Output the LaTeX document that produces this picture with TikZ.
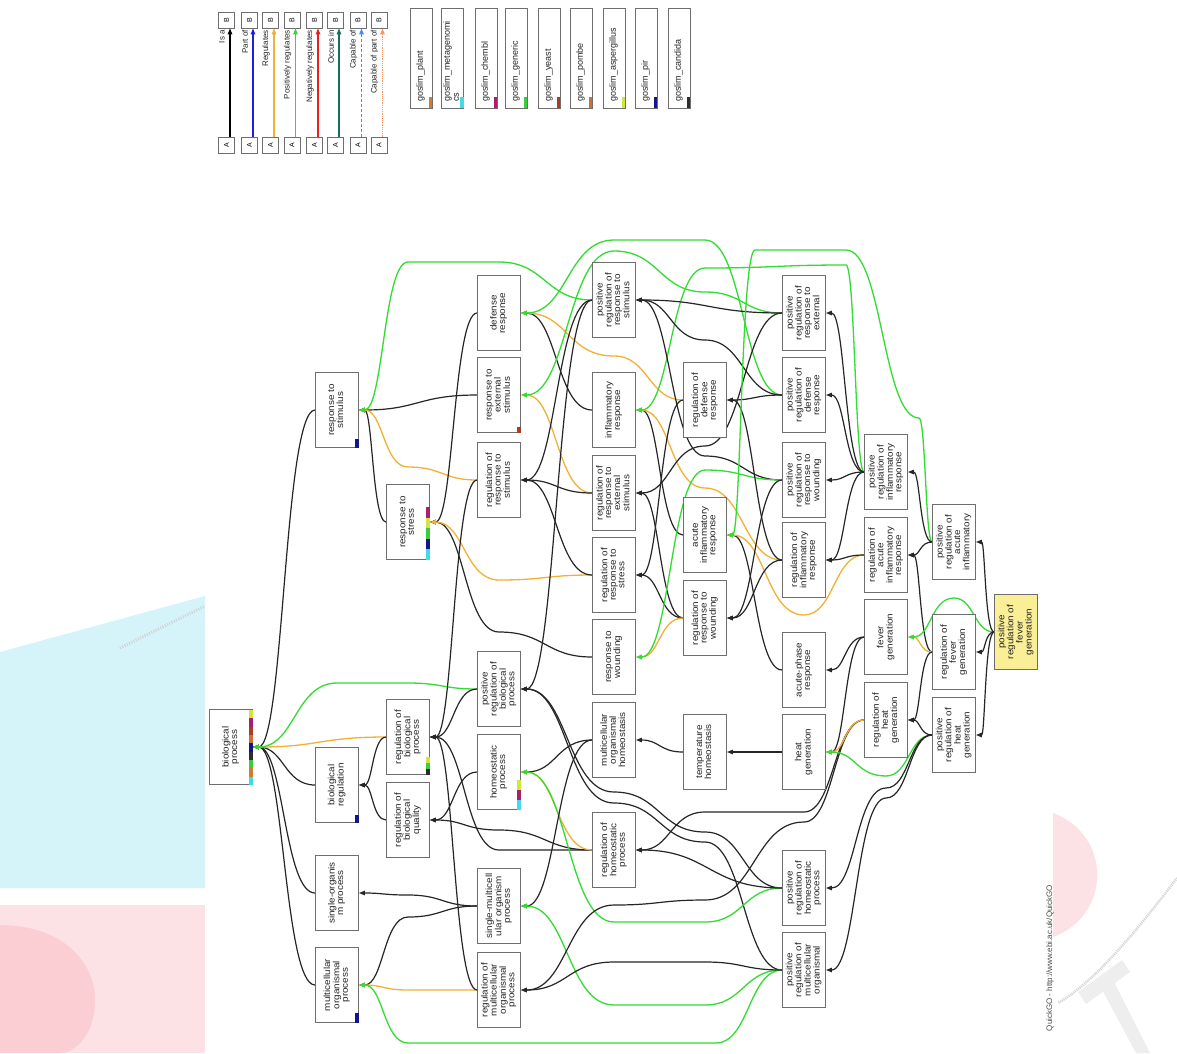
\documentclass[tikz,border=0pt]{standalone}
\usepackage{fontspec}
\setmainfont{Liberation Sans}
\usepackage{graphicx}
\usetikzlibrary{arrows.meta,calc}
\pgfdeclarelayer{wm}
\pgfdeclarelayer{bg}
\pgfsetlayers{wm,bg,main}
\definecolor{regor}{RGB}{242,176,52}
\definecolor{posgr}{RGB}{50,220,50}
\definecolor{boxgray}{RGB}{110,110,110}
\definecolor{yellowfill}{RGB}{250,238,150}
\definecolor{wmcyan}{RGB}{212,244,250}
\definecolor{wmpink}{RGB}{252,226,228}
\definecolor{wmpinkdark}{RGB}{250,206,210}
\definecolor{slplant}{RGB}{214,122,48}
\definecolor{slmeta}{RGB}{64,218,232}
\definecolor{slchembl}{RGB}{170,30,110}
\definecolor{slgeneric}{RGB}{60,205,60}
\definecolor{slyeast}{RGB}{168,62,32}
\definecolor{slpombe}{RGB}{205,112,50}
\definecolor{slasperg}{RGB}{205,232,60}
\definecolor{slpir}{RGB}{20,20,140}
\definecolor{slcand}{RGB}{45,45,45}
\definecolor{lgblue}{RGB}{30,30,230}
\definecolor{lgred}{RGB}{235,30,30}
\definecolor{lgteal}{RGB}{20,110,100}
\definecolor{lgcap}{RGB}{70,140,255}
\definecolor{lgcappart}{RGB}{250,150,100}
\newcommand{\gotxt}[1]{\rotatebox{90}{\scalebox{1.1}[1]{\begin{tabular}{@{}c@{}}#1\end{tabular}}}}
\newcommand{\slimbar}[3]{\foreach \slc [count=\sli from 0] in {#3}{\fill[\slc] ([xshift=-3.5pt,yshift=\sli*#2]#1.south east) rectangle ++(3.5pt,#2pt);}}
\begin{document}
\begin{tikzpicture}[x=1pt,y=-1pt,
 hcurve/.style={to path={let \p1=(\tikztostart),\p2=(\tikztotarget),\n1={0.5*(\x2-\x1)},\n2={0.5*(\x1-\x2)} in .. controls ([xshift=\n1]\p1) and ([xshift=\n2]\p2) .. (\tikztotarget) \tikztonodes}},
 isaedge/.style={draw=black!85, line width=1.2pt, hcurve, -{Triangle[length=6pt,width=4.5pt]}},
 regedge/.style={draw=regor, line width=1.3pt, hcurve, -{Triangle[length=6pt,width=4.5pt]}},
 posedge/.style={draw=posgr, line width=1.3pt, hcurve, -{Triangle[length=6pt,width=4.5pt]}},
 gobox/.style={draw=boxgray, line width=0.9pt, fill=white, minimum width=43pt, minimum height=75pt, inner sep=0pt, font=\fontsize{9}{8.5}\selectfont, text=black!85},
 lgbox/.style={draw=boxgray, line width=0.8pt, fill=white, minimum size=16pt, inner sep=0pt, font=\fontsize{7}{8}\selectfont},
 lglabel/.style={inner sep=0pt, font=\fontsize{8}{9}\selectfont, text=black!85},
 slimbox/.style={draw=boxgray, line width=0.8pt, fill=white, minimum width=22pt, minimum height=100pt, inner sep=0pt},
 slimtxt/.style={inner sep=0pt, font=\fontsize{9}{9}\selectfont, text=black!85}
]
\useasboundingbox (0,0) rectangle (1177,1053);
\begin{pgfonlayer}{wm}
\fill[white] (0,0) rectangle (1177,1053);
\fill[wmcyan] (0,652) -- (205,596) -- (205,888) -- (0,888) -- cycle;
\fill[wmpink] (0,905) -- (205,905) -- (205,1053) -- (0,1053) -- cycle;
\fill[wmpinkdark] (0,925) .. controls (60,925) and (95,960) .. (95,1000) .. controls (95,1035) and (75,1053) .. (60,1053) -- (0,1053) -- cycle;
\draw[gray!35, line width=3pt, dash pattern=on 1pt off 1.5pt] (120,648) -- (205,606);
\fill[wmpink] (1053,813) .. controls (1112,835) and (1112,915) .. (1053,937) -- cycle;
\draw[gray!35, line width=2.5pt, dash pattern=on 1pt off 1pt] (1177,878) .. controls (1130,940) and (1090,985) .. (1058,1003);
\fill[gray!13] (1078,992) -- (1122,960) -- (1130,972) -- (1086,1004) -- cycle;
\fill[gray!13] (1098,982) -- (1110,974) -- (1150,1053) -- (1136,1053) -- cycle;
\end{pgfonlayer}

% ---------- legend ----------
\foreach \bx/\col/\sty/\lab [count=\k] in {226.5/black/solid/Is a, 249.5/lgblue/solid/Part of, 270.5/regor/solid/Regulates, 292/posgr/solid/Positively regulates, 314.5/lgred/solid/Negatively regulates, 335.5/lgteal/solid/Occurs in, 358/lgcap/densely dashed/Capable of, 379/lgcappart/densely dotted/Capable of part of}
{
 \node[lgbox] (la\k) at (\bx,145) {\rotatebox{90}{A}};
 \node[lgbox] (lb\k) at (\bx,20) {\rotatebox{90}{B}};
 \draw[line width=1.2pt, draw=\col, \sty, -{Triangle[length=6pt,width=4.5pt]}] ([xshift=3.5pt]la\k.north) -- ([xshift=3.5pt]lb\k.south);
 \node[lglabel, rotate=90, anchor=east] (ll\k) at (\bx-4.5,30) {\lab};
}
\foreach \sx/\scol/\stxt [count=\k] in {421/slplant/goslim\_plant, 452.5/slmeta/goslim\_metagenomi\\cs, 486/slchembl/goslim\_chembl, 516/slgeneric/goslim\_generic, 549/slyeast/goslim\_yeast, 581/slpombe/goslim\_pombe, 614/slasperg/goslim\_aspergillus, 646/slpir/goslim\_pir, 679/slcand/goslim\_candida}
{
 \node[slimbox] (sb\k) at (\sx,58) {};
 \node[slimtxt, rotate=90, anchor=west] (st\k) at (\sx,102) {\begin{tabular}{@{}l@{}}\stxt\end{tabular}};
 \fill[\scol] ([xshift=-3.5pt]sb\k.south east) rectangle ++(3.5pt,11pt);
}

% ---------- nodes ----------
\node[gobox] (bp) at (231,747) {\gotxt{biological\\process}};
\node[gobox] (rstim) at (337,410) {\gotxt{response to\\stimulus}};
\node[gobox] (breg) at (337,785) {\gotxt{biological\\regulation}};
\node[gobox] (sop) at (337,893) {\gotxt{single-organis\\m process}};
\node[gobox] (mop) at (337,985) {\gotxt{multicellular\\organismal\\process}};
\node[gobox] (rstress) at (408,522) {\gotxt{response to\\stress}};
\node[gobox] (rbp) at (408,737) {\gotxt{regulation of\\biological\\process}};
\node[gobox] (rbq) at (408,820) {\gotxt{regulation of\\biological\\quality}};
\node[gobox] (defr) at (499,313) {\gotxt{defense\\response}};
\node[gobox] (rext) at (499,395) {\gotxt{response to\\external\\stimulus}};
\node[gobox] (rrs) at (499,480) {\gotxt{regulation of\\response to\\stimulus}};
\node[gobox] (prbp) at (499,689) {\gotxt{positive\\regulation of\\biological\\process}};
\node[gobox] (homeo) at (499,772) {\gotxt{homeostatic\\process}};
\node[gobox] (smop) at (499,906) {\gotxt{single-multicell\\ular organism\\process}};
\node[gobox] (rmop) at (499,990) {\gotxt{regulation of\\multicellular\\organismal\\process}};
\node[gobox] (prrs) at (614,300) {\gotxt{positive\\regulation of\\response to\\stimulus}};
\node[gobox] (infl) at (614,410) {\gotxt{inflammatory\\response}};
\node[gobox] (rres) at (614,493) {\gotxt{regulation of\\response to\\external\\stimulus}};
\node[gobox] (rrstress) at (614,575) {\gotxt{regulation of\\response to\\stress}};
\node[gobox] (wound) at (614,657) {\gotxt{response to\\wounding}};
\node[gobox] (moh) at (614,740) {\gotxt{multicellular\\organismal\\homeostasis}};
\node[gobox] (rhp) at (614,850) {\gotxt{regulation of\\homeostatic\\process}};
\node[gobox] (rdef) at (705,400) {\gotxt{regulation of\\defense\\response}};
\node[gobox] (acute) at (705,535) {\gotxt{acute\\inflammatory\\response}};
\node[gobox] (rwound) at (705,618) {\gotxt{regulation of\\response to\\wounding}};
\node[gobox] (temph) at (705,752) {\gotxt{temperature\\homeostasis}};
\node[gobox] (prres) at (804,313) {\gotxt{positive\\regulation of\\response to\\external}};
\node[gobox] (pdef) at (804,395) {\gotxt{positive\\regulation of\\defense\\response}};
\node[gobox] (pwound) at (804,480) {\gotxt{positive\\regulation of\\response to\\wounding}};
\node[gobox] (rinfl) at (804,560) {\gotxt{regulation of\\inflammatory\\response}};
\node[gobox] (acph) at (804,670) {\gotxt{acute-phase\\response}};
\node[gobox] (heat) at (804,752) {\gotxt{heat\\generation}};
\node[gobox] (prhp) at (804,888) {\gotxt{positive\\regulation of\\homeostatic\\process}};
\node[gobox] (prmop) at (804,970) {\gotxt{positive\\regulation of\\multicellular\\organismal}};
\node[gobox] (pinfl) at (886,472) {\gotxt{positive\\regulation of\\inflammatory\\response}};
\node[gobox] (racute) at (886,555) {\gotxt{regulation of\\acute\\inflammatory\\response}};
\node[gobox] (fever) at (886,637) {\gotxt{fever\\generation}};
\node[gobox] (rheat) at (886,720) {\gotxt{regulation of\\heat\\generation}};
\node[gobox] (pacute) at (954,542) {\gotxt{positive\\regulation of\\acute\\inflammatory}};
\node[gobox] (rfever) at (954,652) {\gotxt{regulation of\\fever\\generation}};
\node[gobox] (pheat) at (954,735) {\gotxt{positive\\regulation of\\heat\\generation}};
\node[gobox, fill=yellowfill] (pfever) at (1016,632) {\gotxt{positive\\regulation of\\fever\\generation}};

% slim colour bars
\slimbar{bp}{8.33}{slmeta,slplant,slgeneric,slcand,slpir,slpombe,slyeast,slchembl,slasperg}
\slimbar{rstress}{10.5}{slmeta,slpir,slgeneric,slasperg,slchembl}
\slimbar{rbp}{6}{slcand,slgeneric,slasperg}
\slimbar{homeo}{10}{slmeta,slchembl,slasperg}
\slimbar{rstim}{9}{slpir}
\slimbar{breg}{8}{slpir}
\slimbar{mop}{10}{slpir}
\slimbar{rext}{6}{slyeast}

\node[rotate=90, inner sep=0pt, font=\fontsize{8}{9}\selectfont, text=black!70] (qgo) at (1050,958) {QuickGO - http://www.ebi.ac.uk/QuickGO};

% ---------- edges ----------
\begin{pgfonlayer}{bg}
% into biological process
\draw[isaedge] (rstim.west) to (bp.east);
\draw[isaedge] (breg.west) to (bp.east);
\draw[isaedge] (sop.west) to (bp.east);
\draw[isaedge] (mop.west) to (bp.east);
\draw[regedge] (rbp.west) to (bp.east);
\draw[posedge] (prbp.west) to (408,683) to (337,683) to (bp.east);
% into response to stimulus
\draw[isaedge] (rstress.west) to (rstim.east);
\draw[isaedge] (rext.west) to (rstim.east);
\draw[regedge] (rrs.west) to (408,467) to (rstim.east);
\draw[posedge] (prrs.west) to (499,262) to (408,262) to (rstim.east);
% biological regulation
\draw[isaedge] (rbp.west) to (breg.east);
\draw[isaedge] (rbq.west) to (breg.east);
% single-organism / multicellular
\draw[isaedge] (smop.west) to (408,895) to (sop.east);
\draw[isaedge] (smop.west) to (408,917) to (mop.east);
\draw[regedge] (rmop.west) to (408,990) to (mop.east);
\draw[posedge] (prmop.west) to (716,1043) to (408,1043) to (mop.east);
% response to stress
\draw[isaedge] (defr.west) to (rstress.east);
\draw[isaedge] (wound.west) to (499,632) to (rstress.east);
\draw[regedge] (rrstress.west) to (499,580) to (rstress.east);
% regulation of biological process / quality
\draw[isaedge] (prbp.west) to (rbp.east);
\draw[isaedge] (rrs.west) to (rbp.east);
\draw[isaedge] (rmop.west) to (rbp.east);
\draw[isaedge] (rhp.west) to (499,850) to (rbp.east);
\draw[isaedge] (homeo.west) to (rbq.east);
\draw[isaedge] (rhp.west) to (499,830) to (rbq.east);
% defense response / external stimulus
\draw[isaedge] (infl.west) to (defr.east);
\draw[regedge] (rdef.west) to (614,356) to (defr.east);
\draw[posedge] (pdef.west) to (705,240) to (614,240) to (defr.east);
\draw[regedge] (rres.west) to (rext.east);
\draw[posedge] (prres.west) to (705,292) to (614,251) to (rext.east);
% regulation of response to stimulus
\draw[isaedge] (prrs.west) to (rrs.east);
\draw[isaedge] (rres.west) to (rrs.east);
\draw[isaedge] (rrstress.west) to (rrs.east);
% positive regulation of biological process
\draw[isaedge] (prrs.west) to (prbp.east);
\draw[isaedge] (prhp.west) to (705,832) to (614,792) to (prbp.east);
\draw[isaedge] (prmop.west) to (705,842) to (614,803) to (prbp.east);
% homeostatic process
\draw[isaedge] (moh.west) to (homeo.east);
\draw[regedge] (rhp.west) to (homeo.east);
\draw[posedge] (prhp.west) to (705,922) to (614,922) to (homeo.east);
% single-multicellular organism process
\draw[isaedge] (moh.west) to (smop.east);
\draw[posedge] (prmop.west) to (705,1005) to (614,1005) to (smop.east);
% regulation of multicellular organismal process
\draw[isaedge] (prmop.west) to (705,962) to (614,962) to (rmop.east);
\draw[isaedge] (rheat.west) to (804,822) to (705,900) to (614,905) to (rmop.east);
% inflammatory response
\draw[isaedge] (acute.west) to (infl.east);
\draw[regedge] (rinfl.west) to (705,488) to (infl.east);
\draw[posedge] (pinfl.west) to (846,265) to (705,268) to (infl.east);
% regulation of response to external stimulus / stress
\draw[isaedge] (rwound.west) to (rres.east);
\draw[isaedge] (prres.west) to (705,446) to (rres.east);
\draw[isaedge] (rdef.west) to (rrstress.east);
\draw[isaedge] (rwound.west) to (rrstress.east);
% positive regulation of response to stimulus
\draw[isaedge] (prres.west) to (prrs.east);
\draw[isaedge] (pdef.west) to (705,340) to (prrs.east);
\draw[isaedge] (pwound.west) to (705,456) to (prrs.east);
% response to wounding
\draw[regedge] (rwound.west) to (wound.east);
\draw[posedge] (pwound.west) to (705,470) to (wound.east);
% multicellular organismal homeostasis / regulation of homeostatic process
\draw[isaedge] (temph.west) to (moh.east);
\draw[isaedge] (prhp.west) to (rhp.east);
\draw[isaedge] (rheat.west) to (804,812) to (705,812) to (rhp.east);
% regulation of defense response
\draw[isaedge] (pdef.west) to (rdef.east);
\draw[isaedge] (rinfl.west) to (rdef.east);
% acute inflammatory response
\draw[isaedge] (acph.west) to (acute.east);
\draw[regedge] (racute.west) to (804,615) to (acute.east);
\draw[posedge] (pacute.west) to (919,418) to (846,250) to (755,250) to (acute.east);
% regulation of response to wounding
\draw[isaedge] (pwound.west) to (rwound.east);
\draw[isaedge] (rinfl.west) to (rwound.east);
% temperature homeostasis
\draw[isaedge] (heat.west) to (temph.east);
% column G parents
\draw[isaedge] (pinfl.west) to (prres.east);
\draw[isaedge] (pinfl.west) to (pdef.east);
\draw[isaedge] (pinfl.west) to (pwound.east);
\draw[isaedge] (pinfl.west) to (rinfl.east);
\draw[isaedge] (racute.west) to (rinfl.east);
\draw[isaedge] (fever.west) to (acph.east);
\draw[isaedge] (fever.west) to (heat.east);
\draw[regedge] (rheat.west) to (heat.east);
\draw[posedge] (pheat.west) to (886,776) to (heat.east);
\draw[isaedge] (pheat.west) to (886,788) to (prhp.east);
\draw[isaedge] (pheat.west) to (886,798) to (prmop.east);
% column H parents
\draw[isaedge] (pacute.west) to (pinfl.east);
\draw[isaedge] (pacute.west) to (racute.east);
\draw[isaedge] (rfever.west) to (racute.east);
\draw[regedge] (rfever.west) to (fever.east);
\draw[posedge] (pfever.west) to (954,598) to (fever.east);
\draw[isaedge] (rfever.west) to (rheat.east);
\draw[isaedge] (pheat.west) to (rheat.east);
% column I parents
\draw[isaedge] (pfever.west) to (pacute.east);
\draw[isaedge] (pfever.west) to (rfever.east);
\draw[isaedge] (pfever.west) to (pheat.east);
\end{pgfonlayer}
\end{tikzpicture}
\end{document}
